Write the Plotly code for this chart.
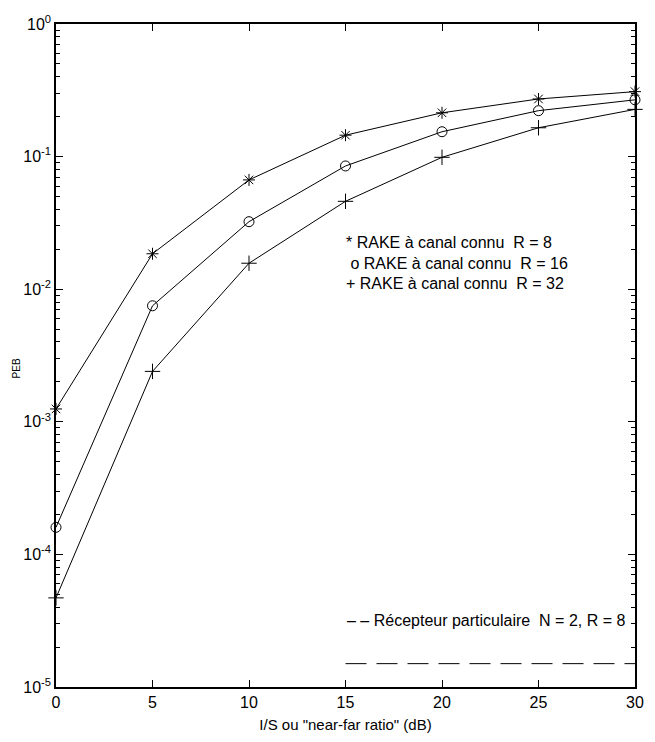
import plotly.graph_objects as go

x = [0, 5, 10, 15, 20, 25, 30]
peb_r8 = [1.25e-3, 0.0185, 0.0667, 0.145, 0.214, 0.272, 0.309]
peb_r16 = [1.6e-4, 7.5e-3, 0.0323, 0.085, 0.154, 0.222, 0.268]
peb_r32 = [4.7e-5, 2.4e-3, 0.0157, 0.046, 0.0988, 0.165, 0.227]
recepteur_x = [15, 30]
recepteur_y = [1.5e-5, 1.5e-5]

ytick_vals = [1e-5, 1e-4, 1e-3, 1e-2, 1e-1, 1]
ytick_text = ["10<sup>-5</sup>", "10<sup>-4</sup>", "10<sup>-3</sup>",
              "10<sup>-2</sup>", "10<sup>-1</sup>", "10<sup>0</sup>"]
minor_vals = [m * 10 ** e for e in range(-5, 0) for m in range(2, 10)]

legend_lines = ["* RAKE à canal connu  R = 8",
                " o RAKE à canal connu  R = 16",
                "+ RAKE à canal connu  R = 32"]
legend_y = [-1.65, -1.805, -1.955]
dash_label = "– – Récepteur particulaire  N = 2, R = 8"

font = "Liberation Sans, Arial, Helvetica, sans-serif"
black = "#000000"

fig = go.Figure()
for ys, sym, sz in [(peb_r8, "asterisk-open", 10),
                    (peb_r16, "circle-open", 10),
                    (peb_r32, "cross-thin-open", 11)]:
    fig.add_trace(go.Scatter(
        x=x, y=ys, mode="lines+markers",
        line=dict(color=black, width=1),
        marker=dict(symbol=sym, size=sz, color=black,
                    line=dict(color=black, width=1)),
        showlegend=False, cliponaxis=False))

fig.add_trace(go.Scatter(
    x=recepteur_x, y=recepteur_y, mode="lines",
    line=dict(color=black, width=1, dash="21px,10px"),
    showlegend=False))

for t, ly in zip(legend_lines, legend_y):
    fig.add_annotation(x=14.9, y=ly, xref="x", yref="y",
                       text=t, showarrow=False, xanchor="left", yanchor="middle",
                       font=dict(family=font, size=16, color=black))
fig.add_annotation(x=29.6, y=-4.5, xref="x", yref="y", text=dash_label,
                   showarrow=False, xanchor="right", yanchor="middle",
                   font=dict(family=font, size=16, color=black))
fig.add_annotation(x=-0.068, y=0.48, xref="paper", yref="paper", text="PEB",
                   showarrow=False, textangle=-90, xanchor="center",
                   yanchor="middle", font=dict(family=font, size=10, color=black))

fig.update_layout(
    width=655, height=742,
    margin=dict(l=56, r=11, t=24, b=45),
    paper_bgcolor="white", plot_bgcolor="white",
    font=dict(family=font, size=16, color=black),
)
fig.update_xaxes(
    range=[0, 30], tickvals=[0, 5, 10, 15, 20, 25, 30],
    ticks="inside", ticklen=7, tickcolor=black, showgrid=False, zeroline=False,
    showline=True, linecolor=black, linewidth=1.5, mirror="ticks",
    title=dict(text='I/S ou "near-far ratio" (dB)', standoff=10,
               font=dict(size=15)),
    tickfont=dict(size=16),
)
fig.update_yaxes(
    type="log", range=[-5, 0], tickvals=ytick_vals, ticktext=ytick_text,
    ticks="inside", ticklen=7, tickcolor=black, showgrid=False, zeroline=False,
    showline=True, linecolor=black, linewidth=1.5, mirror="ticks",
    minor=dict(tickmode="array", tickvals=minor_vals, ticks="inside",
               ticklen=4, tickcolor=black, showgrid=False),
    tickfont=dict(size=16),
)

fig.write_html("out.html")
